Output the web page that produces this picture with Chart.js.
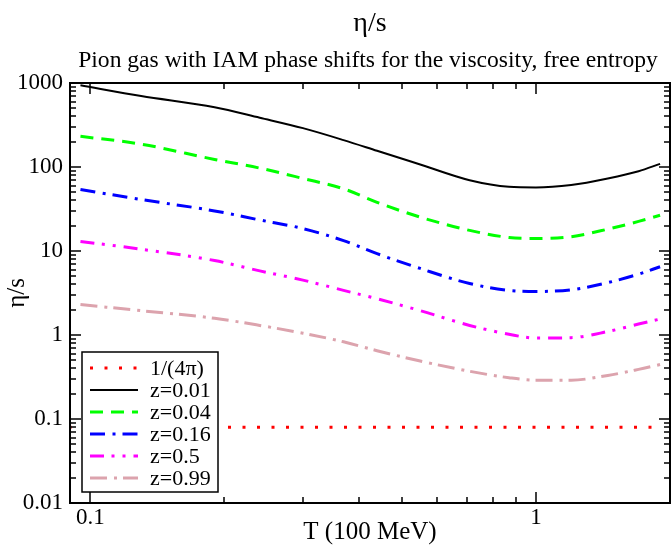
<!DOCTYPE html>
<html>
<head>
<meta charset="utf-8">
<script src="https://cdn.jsdelivr.net/npm/chart.js@4.4.1/dist/chart.umd.min.js"></script>
<style>
  html, body { margin: 0; padding: 0; background: #fff; }
  #wrap { width: 671px; height: 545px; position: relative; }
</style>
</head>
<body>
<div id="wrap"><canvas id="c"></canvas></div>
<script>
// T in units of 100 MeV, eta/s
const temps = [0.095, 0.13, 0.19, 0.24, 0.30, 0.37, 0.44, 0.55, 0.71, 0.87, 1.0, 1.2, 1.45, 1.7, 1.9];
const z001 = [940, 700, 515, 386, 290, 209, 156, 107, 69.5, 58, 57, 61, 73, 89, 109];
const z004 = [232, 187, 123, 97, 73, 55, 38, 25.3, 17.6, 14.5, 14.1, 14.8, 18.2, 22.5, 26.6];
const z016 = [54, 41, 30, 23.4, 18.5, 13.3, 9.3, 6.2, 4.1, 3.4, 3.3, 3.45, 4.2, 5.3, 6.5];
const z05 = [13, 10.5, 7.7, 5.8, 4.5, 3.4, 2.7, 1.95, 1.3, 1.02, 0.92, 0.93, 1.1, 1.35, 1.55];
const z099 = [2.3, 1.95, 1.58, 1.3, 1.05, 0.83, 0.65, 0.49, 0.37, 0.31, 0.29, 0.29, 0.33, 0.39, 0.445];
const boundT = [0.09, 1.9];
const bound = [0.0796, 0.0796];

const seriesNames = ['1/(4\u03c0)', 'z=0.01', 'z=0.04', 'z=0.16', 'z=0.5', 'z=0.99'];
const yLabelled = [0.01, 0.1, 1, 10, 100, 1000];
const xLabelled = [0.1, 1];

const serif = "'Liberation Serif', 'Times New Roman', serif";

function pts(xs, ys) {
    return xs.map((t, i) => ({ x: t, y: ys[i] }));
}

function isLabelled(v, list) {
    return list.some(l => Math.abs(v - l) / l < 1e-6);
}

const styles = [
    { color: '#ff0000', width: 3, dash: [3, 11.5] },
    { color: '#000000', width: 2, dash: [] },
    { color: '#00ff00', width: 3, dash: [13, 8] },
    { color: '#0000ff', width: 3, dash: [15, 7.5, 3, 7] },
    { color: '#ff00ff', width: 3, dash: [14, 7.5, 3, 8, 3, 8] },
    { color: '#dca3ad', width: 3, dash: [17, 7, 3, 6] }
];

const allData = [pts(boundT, bound), pts(temps, z001), pts(temps, z004), pts(temps, z016), pts(temps, z05), pts(temps, z099)];

const datasets = allData.map((d, i) => ({
    label: seriesNames[i],
    data: d,
    borderColor: styles[i].color,
    borderWidth: styles[i].width,
    borderDash: styles[i].dash,
    borderDashOffset: i === 0 ? 1.5 : 0,
    borderCapStyle: 'butt',
    pointRadius: 0,
    fill: false,
    cubicInterpolationMode: 'monotone'
}));

// frame, inward ticks on all four sides, titles
const framePlugin = {
    id: 'frame',
    afterDraw(chart) {
        const { ctx, chartArea: a, scales: { x, y } } = chart;
        ctx.save();
        ctx.strokeStyle = '#000';
        ctx.lineWidth = 1.5;
        ctx.beginPath();
        for (let e = -2; e <= 3; e++) {
            for (let m = 1; m <= 9; m++) {
                const v = m * Math.pow(10, e);
                if (v <= y.min * 1.0001 || v >= y.max * 0.9999) continue;
                const py = Math.round(y.getPixelForValue(v));
                const len = m === 1 ? 11 : 6;
                ctx.moveTo(a.left, py); ctx.lineTo(a.left + len, py);
                ctx.moveTo(a.right, py); ctx.lineTo(a.right - len, py);
            }
        }
        for (let e = -2; e <= 0; e++) {
            for (let m = 1; m <= 9; m++) {
                const v = m * Math.pow(10, e);
                if (v <= x.min * 1.0001 || v >= x.max * 0.9999) continue;
                const px = Math.round(x.getPixelForValue(v));
                const len = m === 1 ? 11 : 6;
                ctx.moveTo(px, a.bottom); ctx.lineTo(px, a.bottom - len);
                ctx.moveTo(px, a.top); ctx.lineTo(px, a.top + len);
            }
        }
        ctx.stroke();
        ctx.lineWidth = 2;
        ctx.strokeRect(a.left, a.top, a.right - a.left, a.bottom - a.top);

        ctx.fillStyle = '#000';
        ctx.textAlign = 'center';
        ctx.textBaseline = 'alphabetic';
        ctx.font = '28px ' + serif;
        ctx.fillText('\u03b7/s', 370, 31);
        ctx.font = '23.6px ' + serif;
        ctx.fillText('Pion gas with IAM phase shifts for the viscosity, free entropy', 368, 67);
        ctx.restore();
    }
};

// legend box in the lower left of the plot
const legendPlugin = {
    id: 'boxLegend',
    afterDatasetsDraw(chart) {
        const { ctx } = chart;
        const bx = 82, by = 352, bw = 136, bh = 140, step = 22;
        ctx.save();
        ctx.fillStyle = '#fff';
        ctx.fillRect(bx, by, bw, bh);
        ctx.strokeStyle = '#000';
        ctx.lineWidth = 1.5;
        ctx.strokeRect(bx, by, bw, bh);
        chart.data.datasets.forEach((ds, i) => {
            const cy = by + 16 + i * step;
            ctx.beginPath();
            ctx.strokeStyle = ds.borderColor;
            ctx.lineWidth = ds.borderWidth;
            ctx.setLineDash(ds.borderDash);
            ctx.moveTo(bx + 8, cy);
            ctx.lineTo(bx + 56, cy);
            ctx.stroke();
            ctx.setLineDash([]);
            ctx.fillStyle = '#000';
            ctx.font = '22px ' + serif;
            ctx.textAlign = 'left';
            ctx.textBaseline = 'middle';
            ctx.fillText(ds.label, bx + 68, cy + 1);
        });
        ctx.restore();
    }
};

new Chart(document.getElementById('c'), {
    type: 'line',
    data: { datasets },
    options: {
        responsive: true,
        maintainAspectRatio: false,
        animation: false,
        devicePixelRatio: 1,
        layout: { padding: { top: 83, right: 1, left: 0, bottom: 0 } },
        plugins: { legend: { display: false }, tooltip: { enabled: false } },
        scales: {
            x: {
                type: 'logarithmic',
                min: 0.09,
                max: 2,
                afterFit: s => { s.height = 42; },
                grid: { display: false, drawTicks: false },
                border: { display: false },
                ticks: {
                    autoSkip: false,
                    maxRotation: 0,
                    padding: 1,
                    color: '#000',
                    font: { family: serif, size: 23 },
                    callback: v => isLabelled(v, xLabelled) ? String(+v.toPrecision(1)) : ''
                },
                title: {
                    display: true,
                    text: 'T (100 MeV)',
                    color: '#000',
                    font: { family: serif, size: 25, lineHeight: 1 },
                    padding: { top: 0, bottom: 0 }
                }
            },
            y: {
                type: 'logarithmic',
                min: 0.01,
                max: 1000,
                afterFit: s => { s.width = 70; },
                grid: { display: false, drawTicks: false },
                border: { display: false },
                ticks: {
                    autoSkip: false,
                    padding: 7,
                    color: '#000',
                    font: { family: serif, size: 23 },
                    callback: v => isLabelled(v, yLabelled) ? String(+v.toPrecision(1)) : ''
                },
                title: {
                    display: true,
                    text: '\u03b7/s',
                    color: '#000',
                    font: { family: serif, size: 25, lineHeight: 1 },
                    padding: { top: 5, bottom: 0 }
                }
            }
        }
    },
    plugins: [legendPlugin, framePlugin]
});
</script>
</body>
</html>
